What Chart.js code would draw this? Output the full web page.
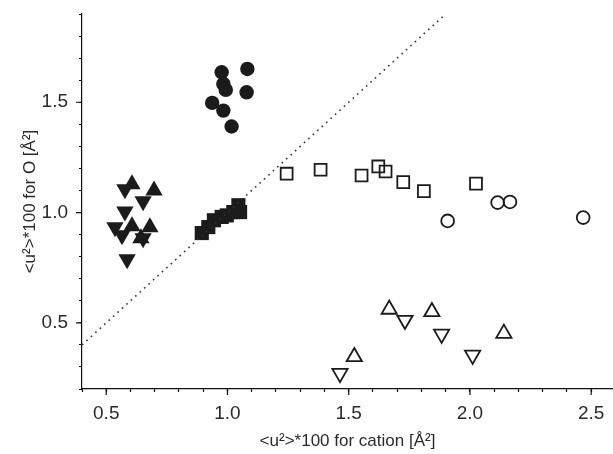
<!DOCTYPE html>
<html>
<head>
<meta charset="utf-8">
<script src="https://cdn.jsdelivr.net/npm/chart.js@4.4.0/dist/chart.umd.min.js"></script>
<style>
  html, body { margin: 0; padding: 0; background: #fff; overflow: hidden; }
  #wrap { width: 613px; height: 454px; }
  canvas { display: block; }
</style>
</head>
<body>
<div id="wrap"><canvas id="chart" width="613" height="454"></canvas></div>
<script>
// DATA
const filledCircleX = [0.976, 1.082, 0.983, 0.993, 1.079, 0.937, 0.983, 1.017];
const filledCircleY = [1.636, 1.651, 1.583, 1.556, 1.545, 1.497, 1.462, 1.390];

const filledSquareX = [0.894, 0.921, 0.944, 0.976, 0.997, 1.024, 1.045, 1.052];
const filledSquareY = [0.907, 0.934, 0.965, 0.980, 0.987, 1.002, 1.033, 1.002];

const filledUpX = [0.606, 0.697, 0.606, 0.680, 0.643];
const filledUpY = [1.128, 1.100, 0.938, 0.933, 0.883];

const filledDownX = [0.577, 0.652, 0.577, 0.536, 0.565, 0.652, 0.586];
const filledDownY = [1.105, 1.051, 1.005, 0.933, 0.897, 0.883, 0.788];

const openSquareX = [1.244, 1.384, 1.553, 1.622, 1.652, 1.725, 1.810, 2.025];
const openSquareY = [1.176, 1.194, 1.168, 1.209, 1.186, 1.138, 1.097, 1.131];

const openCircleX = [1.908, 2.114, 2.165, 2.467];
const openCircleY = [0.962, 1.045, 1.048, 0.977];

const openUpX = [1.523, 1.667, 1.843, 2.140];
const openUpY = [0.346, 0.561, 0.550, 0.452];

const openDownX = [1.464, 1.732, 1.883, 2.011];
const openDownY = [0.271, 0.512, 0.449, 0.354];

// y = x guide line
const diagX = [0.4, 1.9];
const diagY = [0.4, 1.9];

const xMajor = [0.5, 1.0, 1.5, 2.0, 2.5];
const yMajor = [0.5, 1.0, 1.5];
const xMax = 2.59;

function pts(xs, ys) {
  return xs.map((x, i) => ({ x: x, y: ys[i] }));
}

// minor ticks every 0.1 between two values
function tenths(from, to) {
  const out = [];
  for (let k = Math.round(from * 10); k <= Math.round(to * 10); k++) {
    out.push({ value: k / 10 });
  }
  return out;
}

const ink = "#1b1b1b";

function scatterSet(xs, ys, style, radius, filled, rotation) {
  return {
    type: "scatter",
    data: pts(xs, ys),
    pointStyle: style,
    pointRadius: radius,
    pointRotation: rotation || 0,
    pointBackgroundColor: filled ? ink : "rgba(0,0,0,0)",
    pointBorderColor: ink,
    pointBorderWidth: filled ? 0 : 1.8,
    pointHoverRadius: radius,
  };
}

// longer ticks at the labelled values
const majorTicks = {
  id: "majorTicks",
  afterDraw(chart) {
    const c = chart.ctx;
    const xs = chart.scales.x, ys = chart.scales.y;
    c.save();
    c.strokeStyle = "#111";
    c.lineWidth = 1.2;
    c.beginPath();
    xMajor.forEach((v) => {
      const px = xs.getPixelForValue(v);
      c.moveTo(px, ys.bottom);
      c.lineTo(px, ys.bottom + 6);
    });
    yMajor.forEach((v) => {
      const py = ys.getPixelForValue(v);
      c.moveTo(xs.left, py);
      c.lineTo(xs.left - 6, py);
    });
    c.stroke();
    c.restore();
  },
};

const isMajor = (v, list) => list.some((m) => Math.abs(m - v) < 1e-6);

const ctx = document.getElementById("chart").getContext("2d");
new Chart(ctx, {
  data: {
    datasets: [
      {
        type: "line",
        data: pts(diagX, diagY),
        borderColor: "#333",
        borderWidth: 1.6,
        borderDash: [1.6, 4.4],
        pointRadius: 0,
        fill: false,
      },
      scatterSet(filledCircleX, filledCircleY, "circle", 7.2, true),
      scatterSet(filledSquareX, filledSquareY, "rect", 10, true),
      scatterSet(filledUpX, filledUpY, "triangle", 10, true),
      scatterSet(filledDownX, filledDownY, "triangle", 10, true, 180),
      scatterSet(openSquareX, openSquareY, "rect", 8.4, false),
      scatterSet(openCircleX, openCircleY, "circle", 6.4, false),
      scatterSet(openUpX, openUpY, "triangle", 8.8, false),
      scatterSet(openDownX, openDownY, "triangle", 8.8, false, 180),
    ],
  },
  options: {
    responsive: false,
    animation: false,
    layout: { autoPadding: false, padding: { top: 14, right: 0, left: 0, bottom: 0 } },
    plugins: { legend: { display: false }, tooltip: { enabled: false } },
    scales: {
      x: {
        type: "linear",
        min: 0.4,
        max: xMax,
        afterFit: (s) => { s.height = 65; s.paddingLeft = 0; s.paddingRight = 0; },
        afterBuildTicks: (s) => { s.ticks = tenths(0.4, 2.5).concat([{ value: xMax }]); },
        border: { display: true, color: "#111", width: 1.2 },
        grid: { drawOnChartArea: false, drawTicks: true, tickLength: 3, color: "#111", tickWidth: 1.2 },
        ticks: {
          padding: 10,
          color: "#2a2a2a",
          font: { family: "Liberation Sans, Arial, sans-serif", size: 19 },
          maxRotation: 0,
          autoSkip: false,
          callback: (v) => (isMajor(v, xMajor) ? Number(v).toFixed(1) : ""),
        },
        title: {
          display: true,
          text: "<u²>*100 for cation [Å²]",
          color: "#2a2a2a",
          font: { family: "Liberation Sans, Arial, sans-serif", size: 17 },
          padding: { top: 0, bottom: 2 },
        },
      },
      y: {
        type: "linear",
        min: 0.2,
        max: 1.9,
        afterFit: (s) => { s.width = 82; s.paddingTop = 0; s.paddingBottom = 0; },
        afterBuildTicks: (s) => { s.ticks = tenths(0.2, 1.9); },
        border: { display: true, color: "#111", width: 1.2 },
        grid: { drawOnChartArea: false, drawTicks: true, tickLength: 3, color: "#111", tickWidth: 1.2 },
        ticks: {
          padding: 11,
          color: "#2a2a2a",
          font: { family: "Liberation Sans, Arial, sans-serif", size: 19 },
          autoSkip: false,
          callback: (v) => (isMajor(v, yMajor) ? Number(v).toFixed(1) : ""),
        },
        title: {
          display: true,
          text: "<u²>*100 for O [Å²]",
          color: "#2a2a2a",
          font: { family: "Liberation Sans, Arial, sans-serif", size: 17 },
          padding: { top: 20, bottom: 0 },
        },
      },
    },
  },
  plugins: [majorTicks],
});
</script>
</body>
</html>
